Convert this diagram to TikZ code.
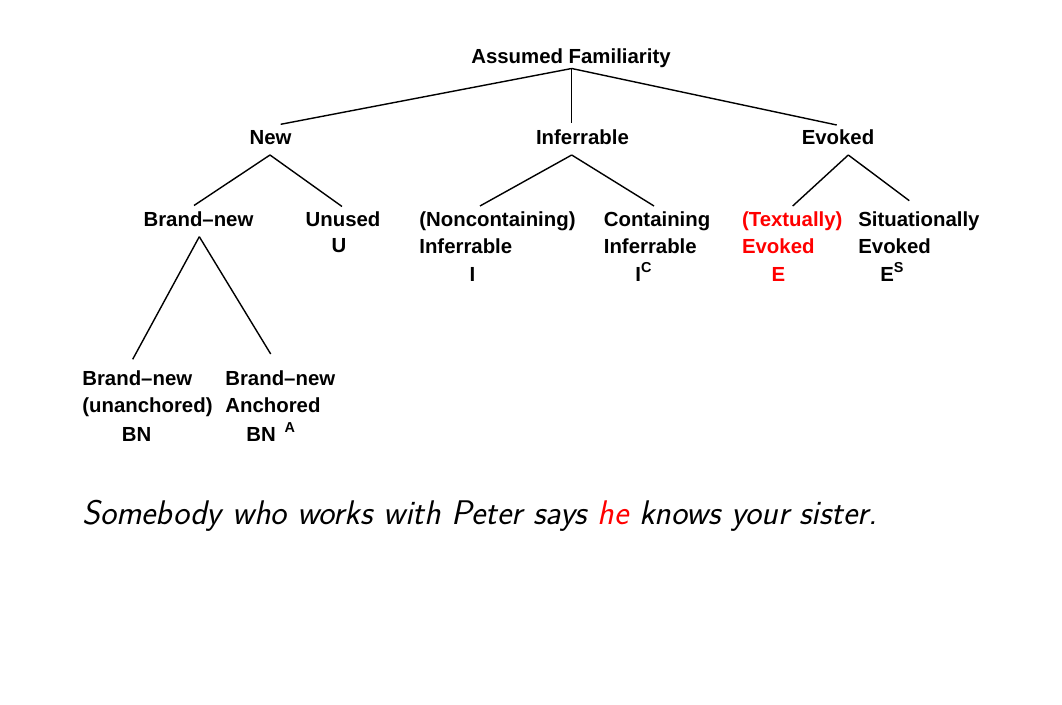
\documentclass[tikz,border=0pt]{standalone}
\usepackage{fontspec}
\newfontfamily\treefont{Liberation Sans}
\newcommand{\famsup}[1]{\raisebox{5pt}{\fontsize{8.2}{8.2}\selectfont #1}}
\tikzset{
  cat/.style={font=\treefont\bfseries\fontsize{11.6}{15.6}\selectfont,
    inner sep=0pt, align=left, anchor=base west},
  midcat/.style={cat, anchor=base},
  redcat/.style={cat, text=red},
  branch/.style={line width=0.8pt},
}
\begin{document}
\begin{tikzpicture}[x=0.02cm,y=-0.02cm]
      \useasboundingbox (0,0) rectangle (1062,705);
      \draw
        (571,63.5) node[midcat] (AF){Assumed Familiarity}
        (270.5,145) node[midcat] (New){New}
        (582.5,145) node[midcat] (Inf){Inferrable}
        (838,145) node[midcat] (Ev){Evoked}
        (198.5,226.7) node[midcat] (Bn){Brand–new}
        (343,226.7) node[midcat] (Un){Unused}
        (339,253) node[midcat] (U){U}
        (419,254) node[cat] (Nc){(Noncontaining)\\Inferrable}
        (472.5,281.5) node[midcat] (I){I}
        (603.5,254) node[cat] (Ct){Containing\\Inferrable}
        (635,281.5) node[cat] (IC){I\famsup{C}}
        (741.7,254) node[redcat] (Tx){(Textually)\\Evoked}
        (778.4,281.5) node[midcat, text=red] (E){E}
        (858,254) node[cat] (Si){Situationally\\Evoked}
        (880,281.5) node[cat] (ES){E\famsup{S}}
        (82,412.7) node[cat] (Bu){Brand–new\\(unanchored)}
        (136.7,441.5) node[midcat] (BN){BN}
        (225,412.7) node[cat] (Ba){Brand–new\\Anchored}
        (246,441.5) node[cat] (BNA){BN\hspace{5pt}\famsup{A}};
      \node[inner sep=0pt, anchor=base west,
        font=\sffamily\slshape\fontsize{19.45}{23}\selectfont] (ex)
        at (82,525) {Somebody who works with Peter says \textcolor{red}{he} knows your sister.};
      % branch points
      \coordinate (AF-s) at (571.7,68.5);
      \coordinate (New-n) at (280.7,124.3);
      \coordinate (Inf-n) at (571.7,123.5);
      \coordinate (Ev-n) at (836.7,125);
      \coordinate (New-s) at (270,155);
      \coordinate (Bn-n) at (194,205.5);
      \coordinate (Un-n) at (342,206.5);
      \coordinate (Inf-s) at (571.7,155);
      \coordinate (Nc-n) at (480,206);
      \coordinate (Ct-n) at (654,206);
      \coordinate (Ev-s) at (848.3,155);
      \coordinate (Tx-n) at (792.7,206);
      \coordinate (Si-n) at (909.3,200.7);
      \coordinate (Bn-s) at (199.3,236.7);
      \coordinate (Bu-n) at (132.7,359.3);
      \coordinate (Ba-n) at (270.7,354);
      \begin{scope}[-, branch]
        \draw (AF-s) to (New-n);
        \draw (AF-s) to (Inf-n);
        \draw (AF-s) to (Ev-n);
        \draw (New-s) to (Bn-n);
        \draw (New-s) to (Un-n);
        \draw (Inf-s) to (Nc-n);
        \draw (Inf-s) to (Ct-n);
        \draw (Ev-s) to (Tx-n);
        \draw (Ev-s) to (Si-n);
        \draw (Bn-s) to (Bu-n);
        \draw (Bn-s) to (Ba-n);
      \end{scope}
    \end{tikzpicture}
\end{document}
